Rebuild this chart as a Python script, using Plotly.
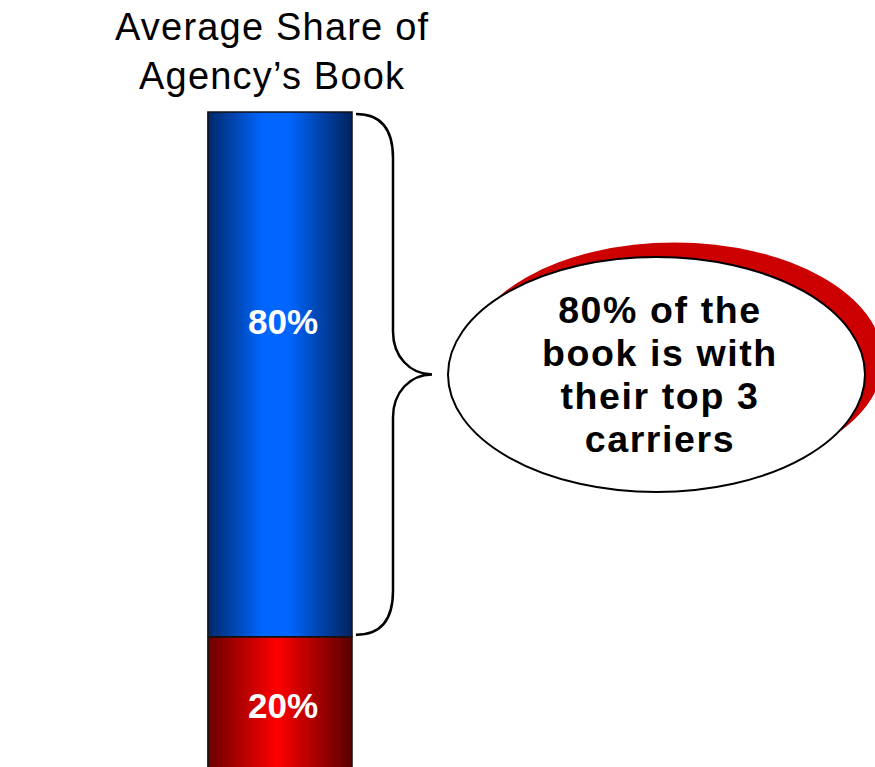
import plotly.graph_objects as go

# Share of an agency's book, stacked bottom to top
segments = ["Other carriers", "Top 3 carriers"]
shares = [20, 80]
share_labels = ["20%", "80%"]
title_lines = ["Average Share of", "Agency\u2019s Book"]
callout_lines = ["80% of the", "book is with", "their top 3", "carriers"]

W, H = 875, 767
FONT = "Liberation Sans, Arial, Helvetica, sans-serif"

# gradient fills (dark edges, bright centre) for each segment
gradients = [
    [[0, "#6a0000"], [0.48, "#ff0000"], [1, "#580000"]],
    [[0, "#00286a"], [0.38, "#0066ff"], [0.56, "#0066ff"], [1, "#00225c"]],
]
label_frac = [0.48, 0.6]  # vertical placement of the value label within a segment

bar_w = 1.0


def px(x):
    return x / W


def py(y):
    return 1 - y / H


fig = go.Figure()

base = 0
bases = []
for name, val, grad in zip(segments, shares, gradients):
    top = base + val
    bases.append(base)
    fig.add_trace(go.Scatter(
        x=[-bar_w / 2, bar_w / 2, bar_w / 2, -bar_w / 2, -bar_w / 2],
        y=[base, base, top, top, base],
        mode="lines", fill="toself",
        fillgradient=dict(type="horizontal", colorscale=grad),
        line=dict(color="#111111", width=1.6),
        name=name, hoverinfo="skip", showlegend=False,
    ))
    base = top

# value labels inside segments
for b, val, lab, f in zip(bases, shares, share_labels, label_frac):
    fig.add_annotation(x=0.02, y=b + val * f, xref="x", yref="y", text=f"<b>{lab}</b>",
                       showarrow=False, font=dict(family=FONT, size=35, color="white"))

# title above the bar
for i, line in enumerate(title_lines):
    fig.add_annotation(x=px(272), y=py(27 + 49 * i), xref="paper", yref="paper",
                       text=f'<span style="letter-spacing:1.2px">{line}</span>',
                       showarrow=False, xanchor="center", yanchor="middle",
                       font=dict(family=FONT, size=38, color="black"))

# curly brace spanning the top segment
seg_lo = bases[1]
seg_hi = bases[1] + shares[1]
mid = (seg_lo + seg_hi) / 2
k = 1 / 6.56  # data units per pixel on the value axis
X0, X1, X2 = px(356), px(393), px(432)
dx24, dx17 = px(24), px(17)
brace = (
    f"M {X0},{seg_hi - 0.3} "
    f"C {X0 + dx24},{seg_hi - 0.3} {X1},{seg_hi - 16 * k} {X1},{seg_hi - 46 * k} "
    f"L {X1},{mid + 43 * k} "
    f"C {X1},{mid + 18 * k} {X1 + dx17},{mid} {X2},{mid} "
    f"C {X1 + dx17},{mid} {X1},{mid - 18 * k} {X1},{mid - 43 * k} "
    f"L {X1},{seg_lo + 46 * k} "
    f"C {X1},{seg_lo + 16 * k} {X0 + dx24},{seg_lo + 0.3} {X0},{seg_lo + 0.3}"
)
fig.add_shape(type="path", path=brace, xref="paper", yref="y",
              line=dict(color="black", width=2.5))

# callout ellipse with offset red shadow
ex0, ex1, ey0, ey1 = 448, 865, 257, 492
sdx, sdy = 18, -14.5
fig.add_shape(type="circle", xref="paper", yref="paper",
              x0=px(ex0 + sdx), x1=px(ex1 + sdx), y0=py(ey1 + sdy), y1=py(ey0 + sdy),
              fillcolor="#cc0000", line=dict(width=0))
fig.add_shape(type="circle", xref="paper", yref="paper",
              x0=px(ex0), x1=px(ex1), y0=py(ey1), y1=py(ey0),
              fillcolor="white", line=dict(color="black", width=2))

# callout text: base size sets the line pitch, inner span sets glyph size
callout_text = "<br>".join(
    f'<span style="font-size:37.5px;letter-spacing:1.6px"><b>{line}</b></span>'
    for line in callout_lines
)
fig.add_annotation(x=px(660), y=py(374), xref="paper", yref="paper",
                   text=callout_text, showarrow=False,
                   xanchor="center", yanchor="middle", align="center",
                   font=dict(family=FONT, size=33, color="black"))

fig.update_xaxes(range=[-1.944, 4.132], visible=False, fixedrange=True)
fig.update_yaxes(range=[0.15, 117.07], visible=False, fixedrange=True)
fig.update_layout(
    width=W, height=H,
    margin=dict(l=0, r=0, t=0, b=0),
    paper_bgcolor="white", plot_bgcolor="white",
    showlegend=False,
)

fig.write_html("out.html")
